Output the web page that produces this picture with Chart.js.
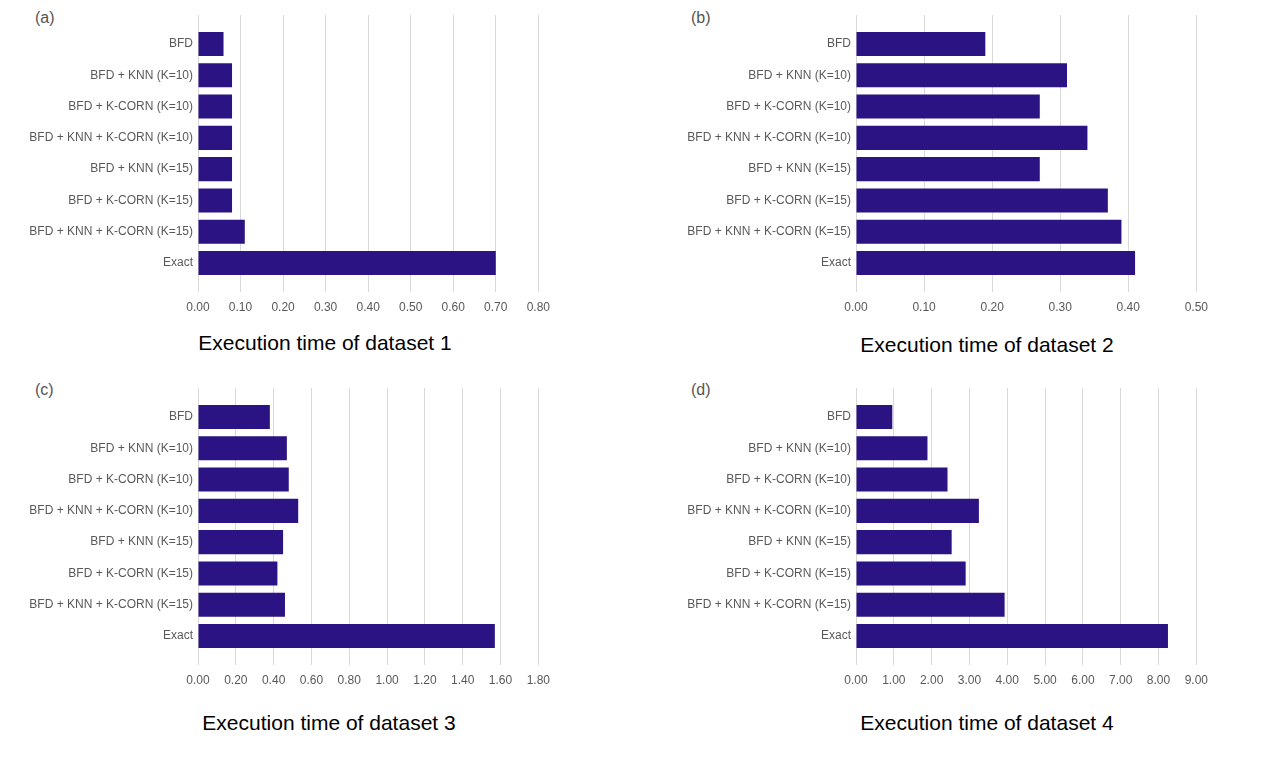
<!DOCTYPE html>
<html lang="en">
<head>
    <meta charset="UTF-8">
    <title>Execution time of datasets</title>
    <style>
        body {
            margin: 0;
            background: #ffffff;
            font-family: "Liberation Sans", Arial, sans-serif;
            width: 1264px;
            height: 760px;
            overflow: hidden;
            position: relative;
        }
        .panel {
            position: absolute;
        }
        .tag {
            position: absolute;
            font-size: 16px;
            color: #555555;
            line-height: 1;
        }
        .caption {
            position: absolute;
            font-size: 21px;
            color: #000000;
            white-space: nowrap;
            transform: translate(-50%, -50%);
            line-height: 1;
        }
    </style>
</head>
<body>
    <div class="tag" style="left:35px; top:10px;">(a)</div>
    <div class="tag" style="left:691px; top:10px;">(b)</div>
    <div class="tag" style="left:35px; top:382px;">(c)</div>
    <div class="tag" style="left:691px; top:382px;">(d)</div>

    <div class="panel" style="left:0px; top:0px; width:558px; height:322px;"><canvas id="chart1"></canvas></div>
    <div class="panel" style="left:660px; top:0px; width:556px; height:322px;"><canvas id="chart2"></canvas></div>
    <div class="panel" style="left:0px; top:373px; width:558px; height:322px;"><canvas id="chart3"></canvas></div>
    <div class="panel" style="left:660px; top:373px; width:556px; height:322px;"><canvas id="chart4"></canvas></div>

    <div class="caption" style="left:325px; top:342px;">Execution time of dataset 1</div>
    <div class="caption" style="left:987px; top:344px;">Execution time of dataset 2</div>
    <div class="caption" style="left:329px; top:722px;">Execution time of dataset 3</div>
    <div class="caption" style="left:987px; top:722px;">Execution time of dataset 4</div>

    <script src="https://cdn.jsdelivr.net/npm/chart.js"></script>

    <script>
        var methods = [
            'BFD',
            'BFD + KNN (K=10)',
            'BFD + K-CORN (K=10)',
            'BFD + KNN + K-CORN (K=10)',
            'BFD + KNN (K=15)',
            'BFD + K-CORN (K=15)',
            'BFD + KNN + K-CORN (K=15)',
            'Exact'
        ];

        var dataset1 = [0.06, 0.08, 0.08, 0.08, 0.08, 0.08, 0.11, 0.70];
        var dataset2 = [0.19, 0.31, 0.27, 0.34, 0.27, 0.37, 0.39, 0.41];
        var dataset3 = [0.38, 0.47, 0.48, 0.53, 0.45, 0.42, 0.46, 1.57];
        var dataset4 = [0.96, 1.89, 2.42, 3.25, 2.53, 2.90, 3.93, 8.25];

        var axisMax1 = 0.8, axisStep1 = 0.1;
        var axisMax2 = 0.5, axisStep2 = 0.1;
        var axisMax3 = 1.8, axisStep3 = 0.2;
        var axisMax4 = 9, axisStep4 = 1;

        // y is a linear index axis so the rows can keep the extra space above and below them
        function createBarChart(id, values, xMax, xStep, labelWidth) {
            var points = values.map(function(v, i) { return { x: v, y: i }; });
            new Chart(document.getElementById(id).getContext('2d'), {
                type: 'bar',
                data: {
                    datasets: [{
                        data: points,
                        backgroundColor: '#2c1384',
                        borderWidth: 0,
                        barPercentage: 0.77,
                        categoryPercentage: 1.0
                    }]
                },
                options: {
                    indexAxis: 'y',
                    responsive: true,
                    maintainAspectRatio: false,
                    animation: false,
                    layout: {
                        padding: { top: 15, right: 0, bottom: 0, left: 0 }
                    },
                    plugins: {
                        legend: { display: false },
                        tooltip: { enabled: false }
                    },
                    scales: {
                        x: {
                            type: 'linear',
                            min: 0,
                            max: xMax,
                            grid: {
                                color: '#d9d9d9',
                                lineWidth: 1,
                                drawTicks: false
                            },
                            border: { display: false },
                            ticks: {
                                stepSize: xStep,
                                padding: 8,
                                color: '#595959',
                                font: { family: 'Liberation Sans', size: 12 },
                                callback: function(value) { return Number(value).toFixed(2); }
                            },
                            afterFit: function(scale) { scale.height = 30; }
                        },
                        y: {
                            type: 'linear',
                            reverse: true,
                            offset: false,
                            min: -0.925,
                            max: methods.length - 1 + 0.925,
                            grid: { display: false, drawTicks: false, offset: false },
                            border: { display: false },
                            ticks: {
                                stepSize: 1,
                                includeBounds: false,
                                autoSkip: false,
                                padding: 5,
                                color: '#595959',
                                font: { family: 'Liberation Sans', size: 12 },
                                callback: function(value) {
                                    return Number.isInteger(value) ? methods[value] : '';
                                }
                            },
                            afterFit: function(scale) { scale.width = labelWidth; }
                        }
                    }
                }
            });
        }

        window.onload = function() {
            createBarChart('chart1', dataset1, axisMax1, axisStep1, 198);
            createBarChart('chart2', dataset2, axisMax2, axisStep2, 196);
            createBarChart('chart3', dataset3, axisMax3, axisStep3, 198);
            createBarChart('chart4', dataset4, axisMax4, axisStep4, 196);
        };
    </script>
</body>
</html>
